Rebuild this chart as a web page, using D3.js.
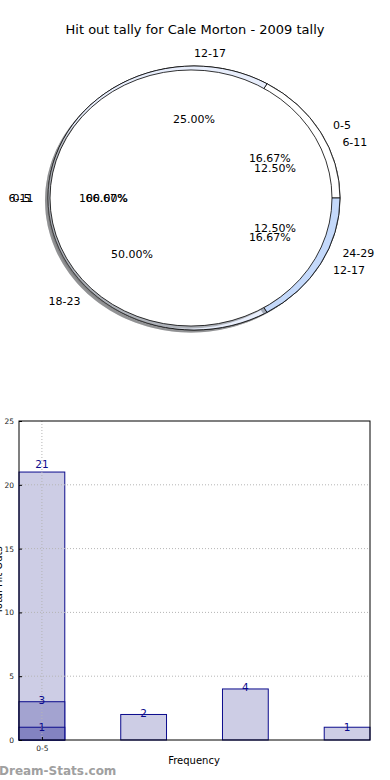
<!DOCTYPE html>
<html>
<head>
<meta charset="utf-8">
<script src="https://cdn.jsdelivr.net/npm/d3@7"></script>
<style>
  body { margin: 0; background: #fff; }
  svg { display: block; font-family: "DejaVu Sans", sans-serif; }
</style>
</head>
<body>
<div id="chart"></div>
<script>
// pie data (three pies drawn over each other, as in the original)
const pieLabelsC = ["6-11", "12-17", "18-23", "24-29"];
const pieValuesC = [1, 2, 4, 1];
const pieLabelsB = ["0-5", "6-11", "12-17"];
const pieValuesB = [1, 4, 1];
const pieLabelsA = ["0-5"];
const pieValuesA = [1];

// bar data
const barTickLabels = ["0-5"];
const seriesLight = [21, 2, 4, 1];
const seriesMid = [3];
const seriesDark = [1];
const yTicks = [0, 5, 10, 15, 20, 25];

const W = 390, H = 780;
const svg = d3.select("#chart").append("svg").attr("width", W).attr("height", H);

svg.append("text").attr("x", 195).attr("y", 34).attr("text-anchor", "middle")
  .attr("font-size", 13).text("Hit out tally for Cale Morton - 2009 tally");

// ---------- pies ----------
const cx = 194, cy = 198, rx = 146, ry = 132;
const wedgeLayer = svg.append("g");
const textLayer = svg.append("g");

function drawPie(values, labels, colors, opt) {
  const pie = d3.pie().sort(null).startAngle(Math.PI / 2).endAngle(Math.PI / 2 - 2 * Math.PI);
  const arcs = pie(values);
  const total = d3.sum(values);
  const r = opt.r || rx, sy = (opt.ry || ry) / r;
  const arc = d3.arc().innerRadius(0).outerRadius(r);
  arcs.forEach((a, i) => {
    const m = (a.startAngle + a.endAngle) / 2;
    const ex = (opt.explode || 0) * Math.sin(m), ey = -(opt.explode || 0) * Math.cos(m);
    const px = cx + ex, py = cy + ey;
    // shadow
    wedgeLayer.append("path").attr("d", arc(a))
      .attr("transform", `translate(${px - 3},${py + 2.6}) scale(1,${sy})`)
      .attr("fill", d3.color(colors[i]).darker(2.5)).attr("opacity", 0.45);
    wedgeLayer.append("path").attr("d", arc(a))
      .attr("transform", `translate(${px},${py}) scale(1,${sy})`)
      .attr("fill", colors[i]).attr("stroke", "#000").attr("stroke-width", 0.8)
      .attr("vector-effect", "non-scaling-stroke");

    const sx = Math.sin(m), syy = -Math.cos(m);
    textLayer.append("text").attr("x", px + 1.1 * rx * sx).attr("y", py + 1.1 * ry * syy)
      .attr("dy", "0.35em").attr("text-anchor", sx >= -1e-6 ? "start" : "end")
      .attr("font-size", 11).text(labels[i]);
    textLayer.append("text").attr("x", px + 0.6 * rx * sx).attr("y", py + 0.6 * ry * syy)
      .attr("dy", "0.35em").attr("text-anchor", "middle").attr("font-size", 11)
      .text(d3.format(".2f")(a.value / total * 100) + "%");
  });
}

drawPie(pieValuesC, pieLabelsC, ["#ffffff", "#e8eefc", "#ffffff", "#c4d9fb"], {});
drawPie(pieValuesB, pieLabelsB, ["#ffffff", "#e8eefc", "#c4d9fb"], {});
drawPie(pieValuesA, pieLabelsA, ["#ffffff"], { explode: 3, r: 141, ry: 128 });

// ---------- bars ----------
const bm = { left: 19, right: 370, top: 421, bottom: 740 };
const bw = 0.45;
const x = d3.scaleLinear().domain([-bw / 2, 3 + bw / 2]).range([bm.left, bm.right]);
const y = d3.scaleLinear().domain([0, 25]).range([bm.bottom, bm.top]);
const navy = "#0b0b8c";

const g = svg.append("g");
function bars(vals, fill) {
  g.selectAll(null).data(vals).enter().append("rect")
    .attr("x", (d, i) => x(i - bw / 2)).attr("width", x(bw) - x(0))
    .attr("y", d => y(d)).attr("height", d => y(0) - y(d))
    .attr("fill", fill).attr("stroke", navy).attr("stroke-width", 1);
}
bars(seriesLight, "#cdcde5");
bars(seriesMid, "#a3a3d0");
bars(seriesDark, "#8383c1");

// grid
const grid = svg.append("g").attr("stroke", "#b5b5b5").attr("stroke-dasharray", "1,2").attr("stroke-width", 1);
yTicks.slice(1, -1).forEach(t => {
  grid.append("line").attr("x1", bm.left).attr("x2", bm.right).attr("y1", y(t)).attr("y2", y(t));
});
barTickLabels.forEach((l, i) => {
  grid.append("line").attr("x1", x(i)).attr("x2", x(i)).attr("y1", bm.top).attr("y2", bm.bottom);
});

// value labels
[seriesLight, seriesMid, seriesDark].forEach(s => {
  s.forEach((v, i) => {
    svg.append("text").attr("x", x(i)).attr("y", y(v * 1.03)).attr("dy", "0.35em")
      .attr("text-anchor", "middle").attr("font-size", 10.5).attr("fill", navy).text(v);
  });
});

// frame + axes
svg.append("rect").attr("x", bm.left).attr("y", bm.top)
  .attr("width", bm.right - bm.left).attr("height", bm.bottom - bm.top)
  .attr("fill", "none").attr("stroke", "#000").attr("stroke-width", 1);

const yAxis = svg.append("g").attr("transform", `translate(${bm.left},0)`)
  .call(d3.axisLeft(y).tickValues(yTicks).tickSize(-3).tickPadding(5));
const xAxis = svg.append("g").attr("transform", `translate(0,${bm.bottom})`)
  .call(d3.axisBottom(x).tickValues(barTickLabels.map((d, i) => i))
    .tickFormat((d, i) => barTickLabels[i]).tickSize(-3).tickPadding(6));
[yAxis, xAxis].forEach(a => {
  a.select(".domain").remove();
  a.selectAll("text").attr("font-size", 7.5).attr("font-family", "DejaVu Sans, sans-serif").attr("fill", "#222");
});

svg.append("text").attr("x", 194).attr("y", 764).attr("text-anchor", "middle")
  .attr("font-size", 10).text("Frequency");
svg.append("text").attr("transform", `translate(2,580) rotate(-90)`)
  .attr("text-anchor", "middle").attr("font-size", 10).text("Total Hit Outs");

svg.append("text").attr("x", -1).attr("y", 775).attr("font-size", 12).attr("font-weight", "bold")
  .attr("fill", "#a0a0a0").text("Dream-Stats.com");
</script>
</body>
</html>
